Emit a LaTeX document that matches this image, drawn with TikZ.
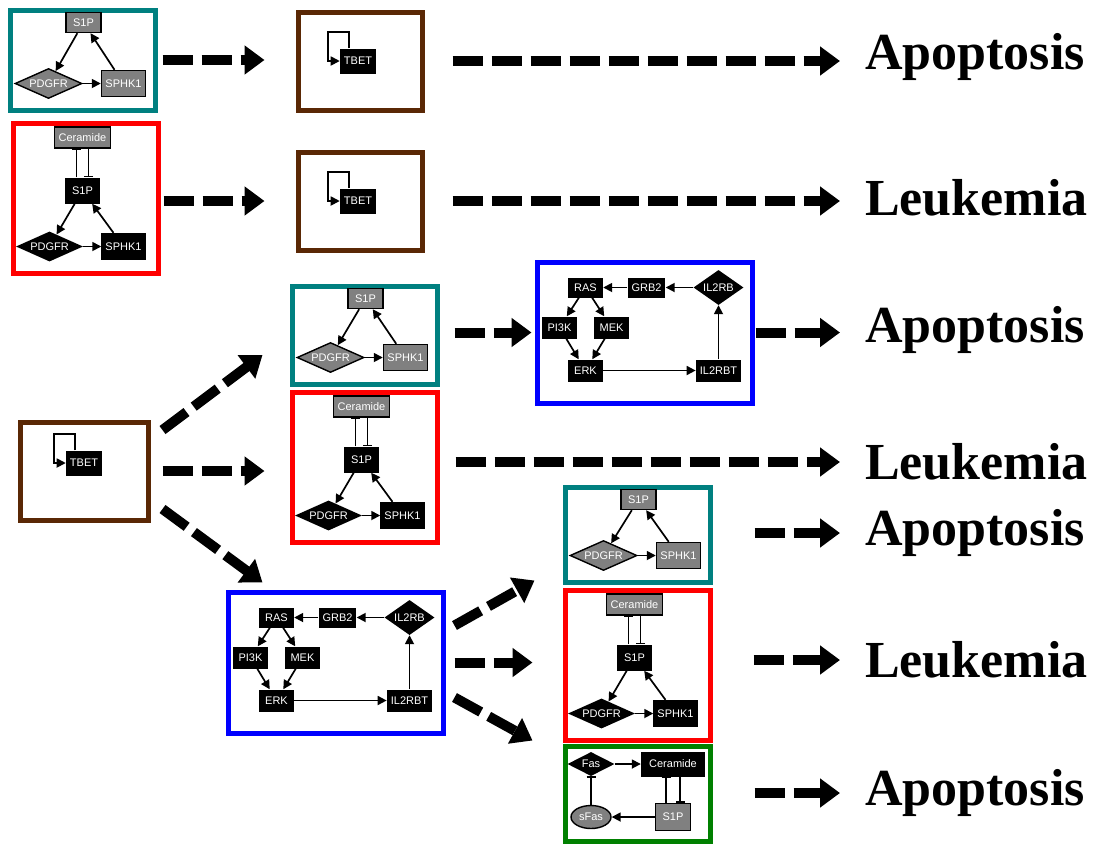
\documentclass[tikz,border=0pt]{standalone}
\usepackage{fontspec}
\setmainfont{Liberation Sans}
\newfontfamily\outfont{Liberation Serif}
\usetikzlibrary{arrows.meta,shapes.geometric}
\definecolor{tealframe}{RGB}{0,128,128}
\definecolor{brownframe}{RGB}{90,40,5}
\definecolor{greenframe}{RGB}{0,128,0}
\definecolor{midgray}{RGB}{128,128,128}
\newcommand{\nodefont}{\fontsize{11}{12}\selectfont}

% S1P / PDGFR / SPHK1 loop, gray
% #1 name, #2 corner, #3 height
\newcommand{\tealnet}[3]{%
	\node[frame=tealframe, minimum width=145pt, minimum height=#3pt, anchor=north west] (#1) at (#2) {};
	\begin{scope}[shift={(#2)}, name prefix=#1-]
		\node[gbox, minimum height=20pt] (s1p) at (76,15) {S1P};
		\node[gdia] (pdgfr) at (41,#3-24) {PDGFR};
		\node[gbox, minimum height=26pt] (sphk) at (116,#3-24) {SPHK1};
		\draw[act] (s1p) -- (pdgfr);
		\draw[act] (pdgfr) -- (sphk);
		\draw[act] (sphk) -- (s1p);
	\end{scope}}

% same loop with Ceramide, black
\newcommand{\rednet}[2]{%
	\node[frame=red, minimum width=145pt, minimum height=150pt, anchor=north west] (#1) at (#2) {};
	\begin{scope}[shift={(#2)}, name prefix=#1-]
		\node[gbox, minimum height=21pt] (cer) at (72,17) {Ceramide};
		\node[bbox, minimum height=26pt] (s1p) at (72,70) {S1P};
		\node[bdia] (pdgfr) at (39,126) {PDGFR};
		\node[bbox, minimum height=27pt] (sphk) at (113,126) {SPHK1};
		\draw[act] (s1p) -- (pdgfr);
		\draw[act] (pdgfr) -- (sphk);
		\draw[act] (sphk) -- (s1p);
		\draw[inh] ([xshift=-6pt]s1p.north) -- ([xshift=-6pt]cer.south);
		\draw[inh] ([xshift=6pt]cer.south) -- ([xshift=6pt]s1p.north);
	\end{scope}}

% IL2RB / RAS / ERK loop
\newcommand{\rasnet}[2]{%
	\node[frame=blue, minimum width=215pt, minimum height=141pt, anchor=north west] (#1) at (#2) {};
	\begin{scope}[shift={(#2)}, name prefix=#1-]
		\node[bbox, minimum height=20pt] (ras) at (51,28) {RAS};
		\node[bbox, minimum height=20pt] (grb) at (112,28) {GRB2};
		\node[bdia, aspect=1.4, minimum width=50pt, minimum height=35pt] (il2rb) at (184,28) {IL2RB};
		\node[bbox] (pi3k) at (25,68) {PI3K};
		\node[bbox] (mek) at (77,68) {MEK};
		\node[bbox] (erk) at (51,111) {ERK};
		\node[bbox] (il2rbt) at (184,111) {IL2RBT};
		\draw[act] (il2rb) -- (grb);
		\draw[act] (grb) -- (ras);
		\draw[act] (ras) -- (pi3k);
		\draw[act] (ras) -- (mek);
		\draw[act] (pi3k) -- (erk);
		\draw[act] (mek) -- (erk);
		\draw[act] (erk) -- (il2rbt);
		\draw[act] (il2rbt) -- (il2rb);
	\end{scope}}

% TBET box with self loop
% #1 name, #2 corner, #3 width, #4 TBET position
\newcommand{\tbetbox}[4]{%
	\node[frame=brownframe, minimum width=#3pt, minimum height=98pt, anchor=north west] (#1) at (#2) {};
	\node[bbox, minimum width=33pt, minimum height=25pt] (#1-tbet) at (#4) {TBET};
	\draw[act] ([xshift=9pt]#1-tbet.north west) -- ++(0,-16) -- ++(-21,0) |- (#1-tbet.west);}

\begin{document}
\begin{tikzpicture}[
	x=1pt, y=-1pt,
	frame/.style={rectangle, draw=#1, line width=5pt, inner sep=0pt},
	bbox/.style={rectangle, fill=black, text=white, font=\nodefont, inner xsep=4pt, inner ysep=0pt, minimum width=35pt, minimum height=22pt},
	gbox/.style={bbox, fill=midgray, draw=black, line width=1.4pt},
	bdia/.style={diamond, aspect=2.2, fill=black, text=white, font=\nodefont, inner sep=0pt, minimum width=67pt, minimum height=30pt},
	gdia/.style={bdia, fill=midgray, draw=black, line width=1.4pt},
	gell/.style={ellipse, fill=midgray, draw=black, line width=1.4pt, text=white, font=\nodefont, inner sep=0pt, minimum width=40pt, minimum height=23pt},
	act/.style={line width=1.7pt, -{Triangle[length=9pt,width=9pt]}},
	inh/.style={line width=1.7pt, -{Bar[width=9pt]}},
	flow/.style={line width=10pt, dash pattern=on 30pt off 9pt, -{Triangle[length=20pt,width=28pt]}},
	outcome/.style={anchor=west, inner sep=0pt, font=\outfont\bfseries\fontsize{52}{60}\selectfont}
	]
	\useasboundingbox (0,0) rectangle (1094,844);

	% networks
	\tealnet{n1}{7.5,7.5}{100}
	\rednet{n2}{10.5,120.5}
	\tbetbox{t1}{295.5,9.5}{124}{358,61}
	\tbetbox{t2}{295.5,149.5}{124}{358,201}
	\tbetbox{t3}{17.5,419.5}{128}{84,463}
	\tealnet{n3}{289.5,283.5}{98}
	\rednet{n4}{289.5,389.5}
	\rasnet{b1}{534.5,259.5}
	\rasnet{b2}{225.5,589.5}
	\tealnet{n5}{562.5,484.5}{95}
	\rednet{n6}{562.5,587.5}

	% Fas / sFas loop
	\node[frame=greenframe, minimum width=145pt, minimum height=95pt, anchor=north west] (g1) at (562.5,743.5) {};
	\node[bdia, aspect=2, minimum width=47pt, minimum height=24pt] (fas) at (591,764) {Fas};
	\node[bbox, minimum width=64pt, minimum height=25pt] (gcer) at (673,764) {Ceramide};
	\node[gell] (sfas) at (591,817) {sFas};
	\node[gbox, minimum height=27pt] (gs1p) at (673,817) {S1P};
	\draw[act] (fas) -- (gcer);
	\draw[inh] (sfas) -- (fas);
	\draw[act] (gs1p) -- (sfas);
	\draw[inh] ([xshift=-7pt]gs1p.north) -- ([xshift=-7pt]gcer.south);
	\draw[inh] ([xshift=7pt]gcer.south) -- ([xshift=7pt]gs1p.north);

	% outcomes
	\node[outcome] (o1) at (865,57) {Apoptosis};
	\node[outcome] (o2) at (865,198) {Leukemia};
	\node[outcome] (o3) at (865,330) {Apoptosis};
	\node[outcome] (o4) at (865,462) {Leukemia};
	\node[outcome] (o5) at (865,533) {Apoptosis};
	\node[outcome] (o6) at (865,660) {Leukemia};
	\node[outcome] (o7) at (865,793) {Apoptosis};

	% flows
	\draw[flow, shorten <=5pt, shorten >=31pt] (n1.east) -- (n1.east -| t1.west);
	\draw[flow, shorten <=28pt, shorten >=25pt] (t1.east) -- (t1.east -| o1.west);
	\draw[flow, shorten <=3pt, shorten >=31pt] (t2.west -| n2.east) -- (t2.west);
	\draw[flow, shorten <=28pt, shorten >=25pt] (t2.east) -- (t2.east -| o2.west);
	\draw[flow, shorten <=15pt, shorten >=3pt] (b1.west -| n3.east) -- (b1.west);
	\draw[flow, shorten <=1pt, shorten >=25pt] (b1.east) -- (b1.east -| o3.west);
	\draw[flow, shorten <=16pt, shorten >=25pt] (o4.west -| n4.east) -- (o4.west);
	\draw[flow, shorten <=42pt, shorten >=25pt] (o5.west -| n5.east) -- (o5.west);
	\draw[flow, shorten <=41pt, shorten >=25pt] (o6.west -| n6.east) -- (o6.west);
	\draw[flow, shorten <=42pt, shorten >=25pt] (o7.west -| g1.east) -- (o7.west);
	\draw[flow] ([shift={(12,-41)}]t3.east) -- ([shift={(-27,20)}]n3.west);
	\draw[flow, shorten <=12pt, shorten >=25pt] (t3.east) -- (t3.east -| n4.west);
	\draw[flow] ([shift={(12,38)}]t3.east) -- ([shift={(37,-7)}]b2.north west);
	\draw[flow] ([shift={(9,-37)}]b2.east) -- ([shift={(-28,-4)}]n5.south west);
	\draw[flow, shorten <=9pt, shorten >=30pt] (b2.east) -- (b2.east -| n6.west);
	\draw[flow] ([shift={(9,35)}]b2.east) -- ([shift={(-30,-3)}]g1.north west);
\end{tikzpicture}
\end{document}
